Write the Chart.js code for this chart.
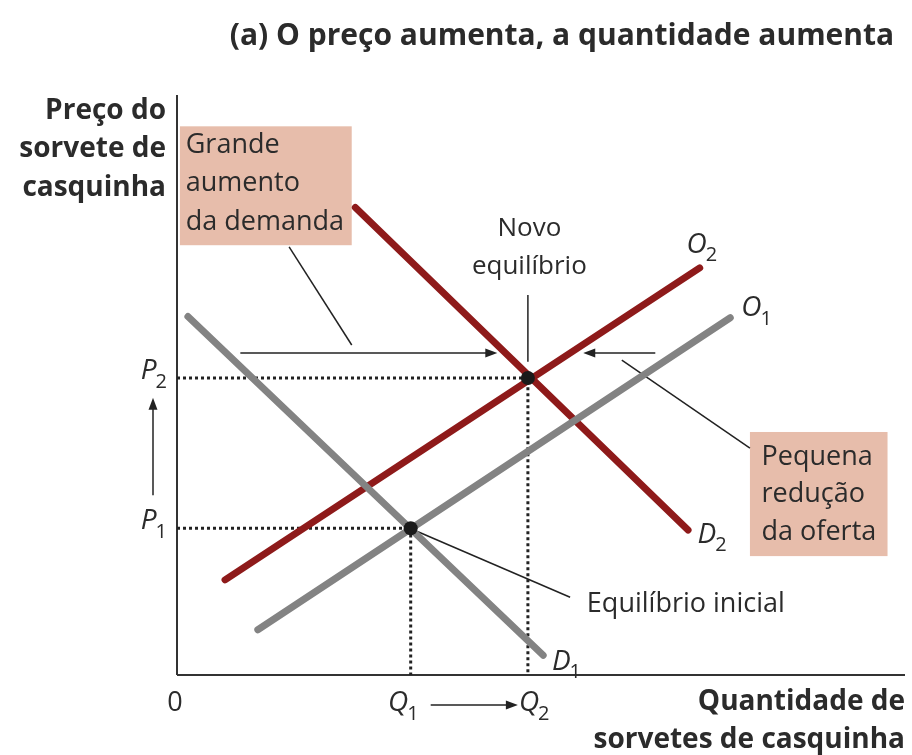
<!DOCTYPE html>
<html>
<head>
<meta charset="utf-8">
<script src="https://cdn.jsdelivr.net/npm/chart.js@4"></script>
<style>
  html, body { margin: 0; background: #fff; }
</style>
</head>
<body>
<canvas id="grafico" width="912" height="755"></canvas>
<script>
// quantidades e preços de equilíbrio (unidades arbitrárias 0-100)
const quantidades = [32.1, 48.2];   // Q1, Q2
const precos = [25.3, 51.2];        // P1, P2
const rotulosQ = ['1', '2'];
const rotulosP = ['1', '2'];

// curvas: [x, y] dos extremos
const curvaD1 = [[1.5, 61.8], [50.3, 3.4]];
const curvaO1 = [[11.1, 7.8], [76.0, 61.6]];
const curvaD2 = [[24.5, 80.6], [70.2, 25.0]];
const curvaO2 = [[6.6, 16.4], [71.8, 70.2]];

const cinza = '#838383';
const vermelho = '#8e1a1a';
const caixa = '#e7bdab';
const texto = '#2b2b2b';
const fonte = '"Open Sans", "Noto Sans", sans-serif';

const pts = arr => arr.map(p => ({ x: p[0], y: p[1] }));

// linha pontilhada P -> ponto -> Q
const tracejado = (q, p) => [{ x: 0, y: p }, { x: q, y: p }, { x: q, y: 0 }];

const curva = (dados, cor) => ({
	data: pts(dados), showLine: true, borderColor: cor, borderWidth: 7,
	borderCapStyle: 'round', pointRadius: 0, order: 2
});

// desenha letra itálica com subscrito
function letraSub(ctx, letra, sub, x, y, align) {
	ctx.font = 'italic 28px ' + fonte;
	const w1 = ctx.measureText(letra).width;
	ctx.font = '20px ' + fonte;
	const w2 = ctx.measureText(sub).width;
	let x0 = x;
	if (align === 'right') x0 = x - w1 - w2;
	if (align === 'center') x0 = x - (w1 + w2) / 2;
	ctx.textAlign = 'left';
	ctx.textBaseline = 'middle';
	ctx.font = 'italic 28px ' + fonte;
	ctx.fillText(letra, x0, y);
	ctx.font = '20px ' + fonte;
	ctx.fillText(sub, x0 + w1 - 1, y + 11);
}

function seta(ctx, x1, y1, x2, y2) {
	const ang = Math.atan2(y2 - y1, x2 - x1);
	ctx.beginPath();
	ctx.moveTo(x1, y1);
	ctx.lineTo(x2 - 8 * Math.cos(ang), y2 - 8 * Math.sin(ang));
	ctx.stroke();
	ctx.beginPath();
	ctx.moveTo(x2, y2);
	ctx.lineTo(x2 - 12 * Math.cos(ang) + 4.5 * Math.sin(ang), y2 - 12 * Math.sin(ang) - 4.5 * Math.cos(ang));
	ctx.lineTo(x2 - 12 * Math.cos(ang) - 4.5 * Math.sin(ang), y2 - 12 * Math.sin(ang) + 4.5 * Math.cos(ang));
	ctx.closePath();
	ctx.fill();
}

function linha(ctx, x1, y1, x2, y2) {
	ctx.beginPath();
	ctx.moveTo(x1, y1);
	ctx.lineTo(x2, y2);
	ctx.stroke();
}

function linhasTexto(ctx, linhas, x, y, passo) {
	linhas.forEach((l, i) => ctx.fillText(l, x, y + i * passo));
}

const anotacoes = {
	id: 'anotacoes',
	beforeDatasetsDraw(chart) {
		const ctx = chart.ctx;
		const sx = chart.scales.x, sy = chart.scales.y;
		const X = v => sx.getPixelForValue(v), Y = v => sy.getPixelForValue(v);
		ctx.save();
		// caixas de texto
		ctx.fillStyle = caixa;
		ctx.fillRect(X(0.4), Y(94.6), X(24.0) - X(0.4), Y(74.1) - Y(94.6));
		ctx.fillRect(X(78.7), Y(41.9), X(97.6) - X(78.7), Y(20.5) - Y(41.9));
		ctx.fillStyle = texto;
		ctx.font = '27px ' + fonte;
		ctx.textAlign = 'left';
		ctx.textBaseline = 'middle';
		linhasTexto(ctx, ['Grande', 'aumento', 'da demanda'], X(1.2), Y(91.4), 38.5);
		linhasTexto(ctx, ['Pequena', 'redução', 'da oferta'], X(80.3), Y(37.6), 37.5);
		ctx.font = '26px ' + fonte;
		ctx.textAlign = 'center';
		linhasTexto(ctx, ['Novo', 'equilíbrio'], X(48.4), Y(76.9), 38);
		ctx.textAlign = 'left';
		ctx.font = '27px ' + fonte;
		ctx.fillText('Equilíbrio inicial', X(56.3), Y(12.2));

		// eixos
		const a = chart.chartArea;
		ctx.strokeStyle = '#333';
		ctx.lineWidth = 2;
		linha(ctx, a.left, a.top, a.left, a.bottom);
		linha(ctx, a.left, a.bottom, a.right, a.bottom);

		// títulos dos eixos
		ctx.font = 'bold 28px ' + fonte;
		ctx.textAlign = 'right';
		linhasTexto(ctx, ['Preço do', 'sorvete de', 'casquinha'], a.left - 11, a.top + 16, 38.5);
		linhasTexto(ctx, ['Quantidade de', 'sorvetes de casquinha'], a.right, a.bottom + 27, 38);
		ctx.font = 'bold 30px ' + fonte;
		ctx.textAlign = 'center';
		ctx.fillText('(a) O preço aumenta, a quantidade aumenta', 562, 36);

		// origem e rótulos P e Q
		ctx.font = '27px ' + fonte;
		ctx.fillText('0', a.left - 2, a.bottom + 28);
		precos.forEach((p, i) => letraSub(ctx, 'P', rotulosP[i], a.left - 9, Y(p) - 7, 'right'));
		letraSub(ctx, 'Q', rotulosQ[0], X(quantidades[0]) + 9, a.bottom + 28, 'right');
		letraSub(ctx, 'Q', rotulosQ[1], X(quantidades[1]) - 9, a.bottom + 28, 'left');

		// rótulos das curvas
		letraSub(ctx, 'O', '2', X(70.0), Y(74.2), 'left');
		letraSub(ctx, 'O', '1', X(77.5), Y(63.3), 'left');
		letraSub(ctx, 'D', '2', X(71.5), Y(24.2), 'left');
		letraSub(ctx, 'D', '1', X(51.5), Y(2.3), 'left');

		// setas e linhas de chamada
		ctx.strokeStyle = '#222';
		ctx.fillStyle = '#222';
		ctx.lineWidth = 1.5;
		seta(ctx, X(8.7), Y(55.5), X(44.0), Y(55.5));
		seta(ctx, X(65.7), Y(55.5), X(55.8), Y(55.5));
		seta(ctx, a.left - 24, Y(31.0), a.left - 24, Y(47.8));
		seta(ctx, X(quantidades[0]) + 20, a.bottom + 30, X(quantidades[1]) - 10, a.bottom + 30);
		linha(ctx, X(15.4), Y(73.8), X(24.0), Y(56.9));
		linha(ctx, X(48.2), Y(65.5), X(48.2), Y(54.0));
		linha(ctx, X(61.1), Y(54.3), X(78.7), Y(39.1));
		linha(ctx, X(33.1), Y(24.7), X(54.0), Y(13.4));
		ctx.restore();
	}
};

new Chart(document.getElementById('grafico'), {
	type: 'scatter',
	data: {
		datasets: [
			curva(curvaD1, cinza),
			curva(curvaO1, cinza),
			curva(curvaO2, vermelho),
			curva(curvaD2, vermelho),
			...quantidades.map((q, i) => ({
				data: tracejado(q, precos[i]), showLine: true, borderColor: '#222',
				borderWidth: 3, borderDash: [3, 3], pointRadius: 0, order: 3
			})),
			{
				data: quantidades.map((q, i) => ({ x: q, y: precos[i] })),
				pointRadius: 7, pointBackgroundColor: '#1a1a1a', pointBorderWidth: 0, order: 1
			}
		]
	},
	options: {
		responsive: false,
		animation: false,
		layout: { padding: { left: 177, right: 7, top: 95, bottom: 80 } },
		scales: {
			x: { type: 'linear', min: 0, max: 100, display: false },
			y: { type: 'linear', min: 0, max: 100, display: false }
		},
		plugins: { legend: { display: false }, tooltip: { enabled: false } }
	},
	plugins: [anotacoes]
});
</script>
</body>
</html>
